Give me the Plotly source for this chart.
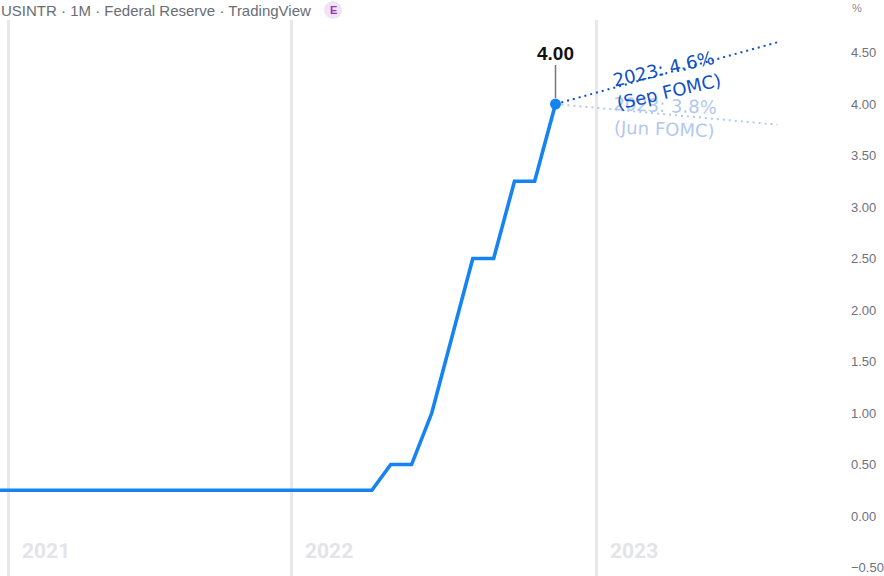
import plotly.graph_objects as go

# ---- data ----
dates = [
    "2020-07-01", "2020-08-01", "2020-09-01", "2020-10-01", "2020-11-01", "2020-12-01",
    "2021-01-01", "2021-02-01", "2021-03-01", "2021-04-01", "2021-05-01", "2021-06-01",
    "2021-07-01", "2021-08-01", "2021-09-01", "2021-10-01", "2021-11-01", "2021-12-01",
    "2022-01-01", "2022-02-01", "2022-03-01", "2022-04-01", "2022-05-01", "2022-06-01",
    "2022-07-01", "2022-08-01", "2022-09-01", "2022-10-01", "2022-11-01",
]
rates = [
    0.25, 0.25, 0.25, 0.25, 0.25, 0.25,
    0.25, 0.25, 0.25, 0.25, 0.25, 0.25,
    0.25, 0.25, 0.25, 0.25, 0.25, 0.25,
    0.25, 0.25, 0.50, 0.50, 1.00, 1.75,
    2.50, 2.50, 3.25, 3.25, 4.00,
]
proj_dates = ["2022-11-01", "2023-09-27"]
sep_fomc = [4.00, 4.60]
jun_fomc = [4.00, 3.80]

year_grid_dates = ["2020-08-10", "2021-10-05", "2023-01-01"]
year_labels = ["2021", "2022", "2023"]
y_ticks = [-0.5, 0.0, 0.5, 1.0, 1.5, 2.0, 2.5, 3.0, 3.5, 4.0, 4.5]
y_tick_labels = ["\u22120.50", "0.00", "0.50", "1.00", "1.50", "2.00", "2.50",
                 "3.00", "3.50", "4.00", "4.50"]

LINE_BLUE = "#1583f1"
SEP_BLUE = "#0d4fc6"
JUN_BLUE = "#b3c8f0"
FONT = "Liberation Sans"

fig = go.Figure()

fig.add_trace(go.Scatter(x=proj_dates, y=jun_fomc, mode="lines",
                         line=dict(color=JUN_BLUE, width=2, dash="2px,4px"),
                         hoverinfo="skip"))
fig.add_trace(go.Scatter(x=proj_dates, y=sep_fomc, mode="lines",
                         line=dict(color=SEP_BLUE, width=2, dash="2px,4px"),
                         hoverinfo="skip"))
fig.add_trace(go.Scatter(x=dates, y=rates, mode="lines",
                         line=dict(color=LINE_BLUE, width=3.6)))
fig.add_trace(go.Scatter(x=[dates[-1]], y=[rates[-1]], mode="markers",
                         marker=dict(color=LINE_BLUE, size=11)))

# value label with leader line
fig.add_annotation(x=dates[-1], y=rates[-1], text=f"{rates[-1]:.2f}",
                   showarrow=True, arrowhead=0, arrowwidth=1.5, arrowcolor="#777777",
                   ax=0, ay=-51, standoff=6,
                   font=dict(family=FONT, size=19, color="#111111", weight="bold"))

# FOMC projection labels (Jun first so Sep draws on top)
fig.add_annotation(x="2023-04-12", y=3.874, text="2023: 3.8%<br>(Jun FOMC)",
                   showarrow=False, textangle=2,
                   font=dict(family="DejaVu Sans", size=18, color=JUN_BLUE))
fig.add_annotation(x="2023-04-14", y=4.233, text="2023: 4.6%<br>(Sep FOMC)",
                   showarrow=False, textangle=-13,
                   font=dict(family="DejaVu Sans", size=18, color=SEP_BLUE))

# year labels
for d, lab in zip(year_grid_dates, year_labels):
    fig.add_annotation(x=d, y=25 / 556, xref="x", yref="paper", text=lab,
                       showarrow=False, xanchor="left", yanchor="middle", xshift=11,
                       font=dict(family="Roboto", size=21, color="#e3e3e8", weight="bold"))

# header
fig.add_annotation(x=0, y=1 + 10 / 556, xref="paper", yref="paper", xanchor="left",
                   yanchor="middle", showarrow=False, xshift=-1,
                   text="USINTR \u00b7 1M \u00b7 Federal Reserve \u00b7 TradingView",
                   font=dict(family=FONT, size=15, color="#6a6c76"))
fig.add_shape(type="circle", xref="paper", yref="paper",
              x0=(324) / 842, x1=(342) / 842, y0=1 + 1 / 556, y1=1 + 19 / 556,
              fillcolor="#f1e3f6", line=dict(width=0))
fig.add_annotation(x=333 / 842, y=1 + 10 / 556, xref="paper", yref="paper",
                   showarrow=False, text="E", yanchor="middle",
                   font=dict(family=FONT, size=11, color="#9b32b5", weight="bold"))
fig.add_annotation(x=1, y=1 + 12 / 556, xref="paper", yref="paper", xanchor="left",
                   yanchor="middle", showarrow=False, text="%", xshift=8,
                   font=dict(family=FONT, size=11, color="#888a93"))

fig.update_layout(
    width=884, height=576,
    margin=dict(l=0, r=42, t=20, b=0),
    paper_bgcolor="white", plot_bgcolor="white",
    showlegend=False,
    xaxis=dict(type="date", range=["2020-07-28", "2024-01-01"],
               tickvals=year_grid_dates, showticklabels=False,
               showgrid=True, gridcolor="#e8e8ec", gridwidth=3,
               zeroline=False, showline=False),
    yaxis=dict(side="right", range=[-0.582, 4.816],
               tickvals=y_ticks, ticktext=y_tick_labels,
               showgrid=False, zeroline=False, showline=False,
               ticks="", ticklabelstandoff=8,
               tickfont=dict(family=FONT, size=13, color="#6f717b")),
)

fig.write_html("out.html", config={"displayModeBar": False},
               post_script="document.body.style.margin='0';document.body.style.overflow='hidden';")
